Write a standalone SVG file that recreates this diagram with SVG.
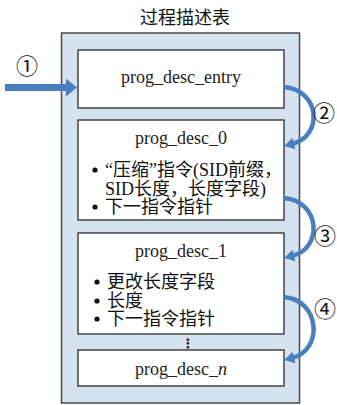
<svg xmlns="http://www.w3.org/2000/svg" width="337" height="405" viewBox="0 0 337 405">
  <style>
    .title { font-family: "Noto Sans CJK SC", sans-serif; font-size: 18px; fill: #111; }
    .box { fill: #ffffff; stroke: #2a2a2a; stroke-width: 1.3; }
    .outer { fill: #d5e3f1; stroke: #4a4a4a; stroke-width: 1.5; }
    .name { font-family: "Liberation Serif", serif; font-size: 18px; fill: #222; text-anchor: middle; }
    .item { font-family: "Liberation Serif", "Noto Sans CJK SC", serif; font-size: 18px; fill: #111; }
    .dot { fill: #111; }
    .num { font-family: "Noto Sans CJK SC", sans-serif; font-size: 22px; fill: #111; text-anchor: middle; }
    .flow { fill: none; stroke: #4a7fbf; stroke-width: 4.5; stroke-linecap: butt; }
  </style>
  <defs>
    <marker id="head" markerUnits="userSpaceOnUse" markerWidth="14" markerHeight="14" refX="2" refY="0" viewBox="0 -7 12 14" orient="auto">
      <path d="M0,-6 L10,0 L0,6 z" fill="#4a7fbf"/>
    </marker>
  </defs>

  <text class="title" x="140" y="24">过程描述表</text>

  <g id="table">
    <rect class="outer" x="61.5" y="33" width="238" height="370"/>
  </g>

  <g id="entry">
    <rect class="box" x="78" y="50" width="206" height="58"/>
    <text class="name" x="181" y="83">prog_desc_entry</text>
  </g>

  <g id="desc0">
    <rect class="box" x="78" y="120" width="206" height="100"/>
    <text class="name" x="181" y="144">prog_desc_0</text>
    <circle class="dot" cx="95" cy="170" r="2.6"/>
    <text class="item" x="105" y="176">“压缩”指令(SID前缀，</text>
    <text class="item" x="105" y="195">SID长度，长度字段)</text>
    <circle class="dot" cx="95" cy="207" r="2.6"/>
    <text class="item" x="105" y="213">下一指令指针</text>
  </g>

  <g id="desc1">
    <rect class="box" x="78" y="233" width="206" height="101"/>
    <text class="name" x="181" y="257">prog_desc_1</text>
    <circle class="dot" cx="97" cy="282" r="2.6"/>
    <text class="item" x="107" y="288">更改长度字段</text>
    <circle class="dot" cx="97" cy="301" r="2.6"/>
    <text class="item" x="107" y="307">长度</text>
    <circle class="dot" cx="97" cy="319" r="2.6"/>
    <text class="item" x="107" y="325">下一指令指针</text>
  </g>

  <text x="188" y="348" style="font-size:13px;font-family:'DejaVu Sans',sans-serif;font-weight:bold" fill="#222" text-anchor="middle">⋮</text>

  <g id="descn">
    <rect class="box" x="78" y="350" width="206" height="36"/>
    <text class="name" x="181" y="375">prog_desc_<tspan font-style="italic">n</tspan></text>
  </g>

  <g id="connectors">
    <rect x="5" y="84" width="63" height="7" fill="#4a7fbf"/>
    <path d="M66,78.5 L77,87.5 L66,96.5 z" fill="#4a7fbf"/>
    <text class="num" x="27" y="74">①</text>

    <path class="flow" d="M283,87 C320,89 324,136 292,144" marker-end="url(#head)"/>
    <text class="num" x="324" y="121">②</text>

    <path class="flow" d="M283,198 C320,200 324,248 292,256" marker-end="url(#head)"/>
    <text class="num" x="325" y="244">③</text>

    <path class="flow" d="M283,297 C320,299 324,350 292,358" marker-end="url(#head)"/>
    <text class="num" x="325" y="317">④</text>
  </g>
</svg>
